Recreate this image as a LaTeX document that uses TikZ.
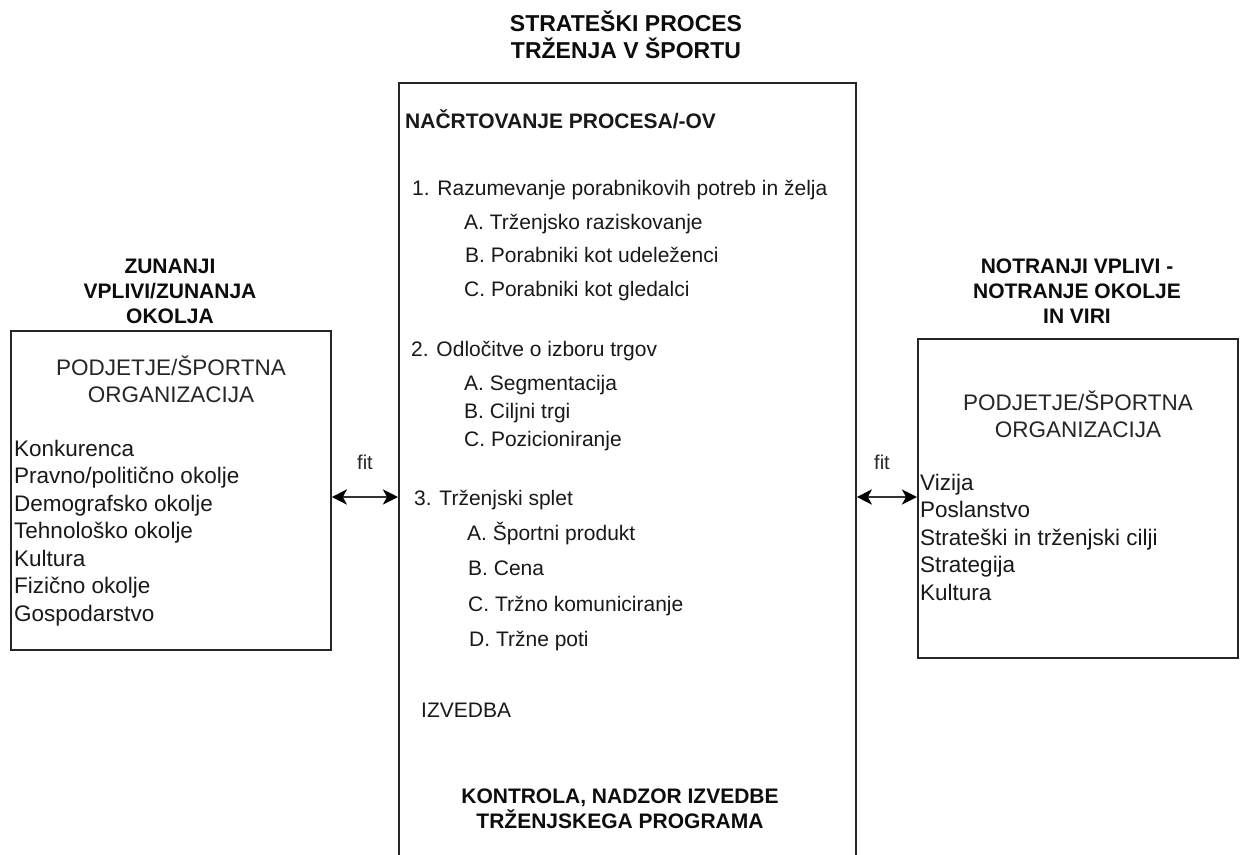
\documentclass[tikz,border=0pt]{standalone}
\usepackage{fontspec}
\setmainfont{Liberation Sans}
\usetikzlibrary{arrows.meta}
\begin{document}
\begin{tikzpicture}[x=1pt,y=-1pt,
  box/.style={draw=black!85, line width=1.8pt, inner sep=0pt, anchor=north west},
  item/.style={anchor=base west, inner sep=0pt, text=black!90, font=\fontsize{21}{25}\selectfont},
  listtxt/.style={anchor=base west, inner sep=0pt, text=black!90, font=\fontsize{22.5}{27}\selectfont},
  orgtxt/.style={anchor=base, inner sep=0pt, text=black!85, font=\fontsize{22.5}{27}\selectfont},
  headtxt/.style={anchor=base, inner sep=0pt, text=black!95, font=\bfseries\fontsize{21}{25}\selectfont},
  titletxt/.style={anchor=base, inner sep=0pt, text=black!95, font=\bfseries\fontsize{23}{27}\selectfont},
  fittxt/.style={anchor=center, inner sep=0pt, text=black!85, font=\fontsize{20}{24}\selectfont},
  arr/.style={line width=2.8pt, draw=black!80, {Stealth[length=15pt,width=15pt,inset=4pt,color=black]}-{Stealth[length=15pt,width=15pt,inset=4pt,color=black]}}
]
\useasboundingbox (0,0) rectangle (1242,854);
\clip (0,0) rectangle (1242,854);
\fill[white] (0,0) rectangle (1242,854);

% boxes
\node[box, minimum width=320pt, minimum height=319pt] (L) at (10,330) {};
\node[box, minimum width=457pt, minimum height=850pt] (C) at (398,82) {};
\node[box, minimum width=320pt, minimum height=319pt] (R) at (917,338) {};

% title
\node[titletxt] (t1) at (626,31) {STRATEŠKI PROCES};
\node[titletxt] (t2) at (626,58) {TRŽENJA V ŠPORTU};

% left heading
\node[headtxt] (lh1) at (170,273) {ZUNANJI};
\node[headtxt] (lh2) at (170,298) {VPLIVI/ZUNANJA};
\node[headtxt] (lh3) at (170,323) {OKOLJA};

% right heading
\node[headtxt] (rh1) at (1077,273) {NOTRANJI VPLIVI -};
\node[headtxt] (rh2) at (1077,298) {NOTRANJE OKOLJE};
\node[headtxt] (rh3) at (1077,323) {IN VIRI};

% left box content
\node[orgtxt] (lo1) at (171,375) {PODJETJE/ŠPORTNA};
\node[orgtxt] (lo2) at (171,402) {ORGANIZACIJA};
\node[listtxt] (l1) at (14,456) {Konkurenca};
\node[listtxt] (l2) at (14,483.5) {Pravno/politično okolje};
\node[listtxt] (l3) at (14,511) {Demografsko okolje};
\node[listtxt] (l4) at (14,538.5) {Tehnološko okolje};
\node[listtxt] (l5) at (14,566) {Kultura};
\node[listtxt] (l6) at (14,593.5) {Fizično okolje};
\node[listtxt] (l7) at (14,621) {Gospodarstvo};

% right box content
\node[orgtxt] (ro1) at (1078,410) {PODJETJE/ŠPORTNA};
\node[orgtxt] (ro2) at (1078,437) {ORGANIZACIJA};
\node[listtxt] (r1) at (920,490) {Vizija};
\node[listtxt] (r2) at (920,517.5) {Poslanstvo};
\node[listtxt] (r3) at (920,545) {Strateški in trženjski cilji};
\node[listtxt] (r4) at (920,572.5) {Strategija};
\node[listtxt] (r5) at (920,600) {Kultura};

% central content
\node[item, font=\bfseries\fontsize{21}{25}\selectfont] (n0) at (405,128) {NAČRTOVANJE PROCESA/-OV};
\node[item] (a1) at (412,195) {1. Razumevanje porabnikovih potreb in želja};
\node[item] (a1a) at (464,229) {A. Trženjsko raziskovanje};
\node[item] (a1b) at (465,262) {B. Porabniki kot udeleženci};
\node[item] (a1c) at (464,296) {C. Porabniki kot gledalci};
\node[item] (a2) at (411,356) {2. Odločitve o izboru trgov};
\node[item] (a2a) at (464,390) {A. Segmentacija};
\node[item] (a2b) at (464,418) {B. Ciljni trgi};
\node[item] (a2c) at (464,446) {C. Pozicioniranje};
\node[item] (a3) at (414,505) {3. Trženjski splet};
\node[item] (a3a) at (467,540) {A. Športni produkt};
\node[item] (a3b) at (468,575) {B. Cena};
\node[item] (a3c) at (468,611) {C. Tržno komuniciranje};
\node[item] (a3d) at (469,646) {D. Tržne poti};
\node[item] (iz) at (421,717) {IZVEDBA};
\node[headtxt] (k1) at (620,803) {KONTROLA, NADZOR IZVEDBE};
\node[headtxt] (k2) at (620,828) {TRŽENJSKEGA PROGRAMA};

% connectors
\draw[arr] (L.east |- 0,497) -- (C.west |- 0,497);
\draw[arr] (C.east |- 0,497) -- (R.west |- 0,497);
\node[fittxt] (f1) at (365,462) {fit};
\node[fittxt] (f2) at (882,462) {fit};
\end{tikzpicture}
\end{document}
